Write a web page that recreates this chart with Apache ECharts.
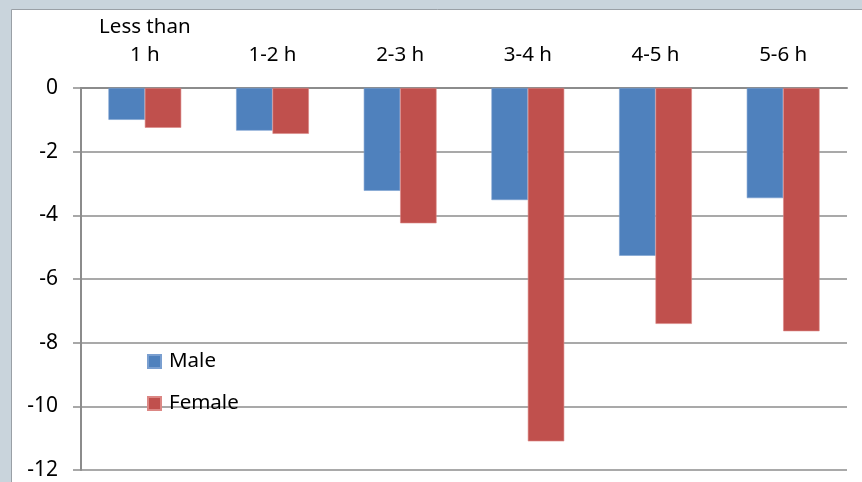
<!DOCTYPE html>
<html>
<head>
<meta charset="utf-8">
<script src="https://cdn.jsdelivr.net/npm/echarts@6/dist/echarts.min.js"></script>
<style>
  html, body { margin: 0; padding: 0; background: #c9d4dc; }
  #chart { width: 862px; height: 482px; }
</style>
</head>
<body>
<div id="chart"></div>
<script>
// Change by daily duration band, split by sex
const categories = ['Less than\n1 h', '1-2 h', '2-3 h', '3-4 h', '4-5 h', '5-6 h'];
const maleValues = [-1.0, -1.34, -3.23, -3.52, -5.27, -3.46];
const femaleValues = [-1.25, -1.44, -4.25, -11.1, -7.41, -7.64];
const yTicks = { min: -12, max: 0, step: 2 };

const font = '"Noto Sans", "Open Sans", "Liberation Sans", sans-serif';
const chart = echarts.init(document.getElementById('chart'), null, { renderer: 'canvas' });

chart.setOption({
  backgroundColor: '#c9d4dc',
  animation: false,
  graphic: [{
    type: 'rect',
    z: -10,
    shape: { x: 11.5, y: 9.5, width: 860, height: 480 },
    style: { fill: '#ffffff', stroke: '#9aa0a6', lineWidth: 1 }
  }],
  grid: { left: 81, right: 15, top: 88, bottom: 12, containLabel: false },
  legend: {
    orient: 'vertical',
    left: 142,
    top: 346,
    itemWidth: 13,
    itemHeight: 13,
    itemGap: 21,
    icon: 'rect',
    textStyle: { fontFamily: font, fontSize: 20.5, color: '#000', padding: [0, 0, 0, 3] },
    data: ['Male', 'Female']
  },
  xAxis: {
    type: 'category',
    position: 'top',
    data: categories,
    axisLine: { lineStyle: { color: '#8c8c8c', width: 2 } },
    axisTick: { inside: true, length: 7, lineStyle: { color: '#8c8c8c', width: 1.5 } },
    axisLabel: {
      fontFamily: font, fontSize: 20.5, color: '#000', margin: 19, lineHeight: 28,
      interval: 0
    }
  },
  yAxis: {
    type: 'value',
    min: yTicks.min,
    max: yTicks.max,
    interval: yTicks.step,
    axisLine: { show: true, lineStyle: { color: '#8c8c8c', width: 2 } },
    axisTick: { show: true, length: 8, lineStyle: { color: '#8c8c8c', width: 1.5 } },
    splitLine: { lineStyle: { color: '#8c8c8c', width: 1.5 } },
    axisLabel: { fontFamily: font, fontSize: 21, color: '#000', margin: 23 }
  },
  series: [
    {
      name: 'Male', type: 'bar', data: maleValues,
      barGap: '0%', barCategoryGap: '43%',
      itemStyle: { color: '#4f81bd', borderColor: '#7a9fd0', borderWidth: 0.6 }
    },
    {
      name: 'Female', type: 'bar', data: femaleValues,
      barGap: '0%', barCategoryGap: '43%',
      itemStyle: { color: '#c0504d', borderColor: '#dc8784', borderWidth: 0.6 }
    }
  ]
});
</script>
</body>
</html>
